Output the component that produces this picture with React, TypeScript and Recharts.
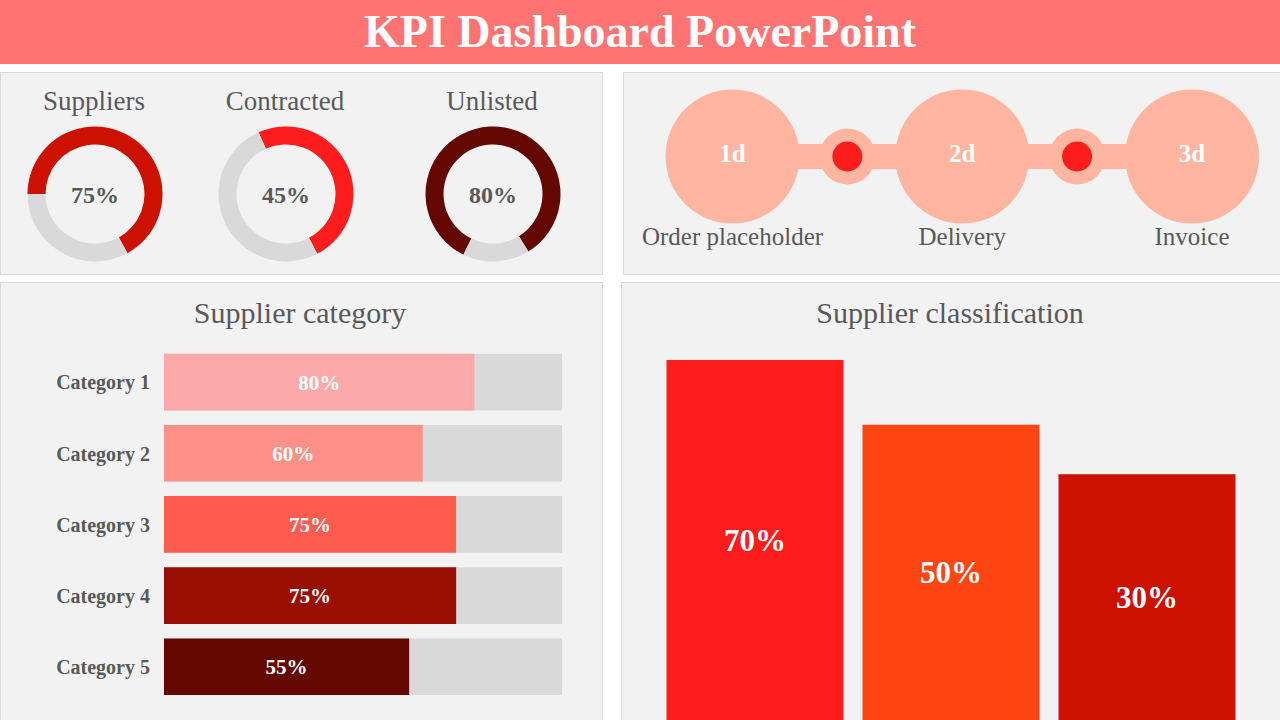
import {
  Bar,
  BarChart,
  Cell,
  ComposedChart,
  Label,
  LabelList,
  Line,
  Pie,
  PieChart,
  Scatter,
  XAxis,
  YAxis,
} from "recharts";

const SERIF = "'Liberation Serif', 'Times New Roman', serif";
const GREY_TEXT = "#595959";
const TRACK = "#D9D9D9";
const SALMON = "#FFB5A0";

// donut gauges (label = printed number, arc = share of the ring as drawn)
const gaugeNames = ["Suppliers", "Contracted", "Unlisted"];
const gaugeLabels = [75, 45, 80];
const gaugeArcs = [67, 49, 84];
const gaugeColors = ["#CC1100", "#FF1C1C", "#640700"];

// process timeline
const stageLabels = ["1d", "2d", "3d"];
const stageNames = ["Order placeholder", "Delivery", "Invoice"];
const stageSteps = [0, 2, 4];
const checkpointSteps = [1, 3];

// supplier category
const categories = ["Category 1", "Category 2", "Category 3", "Category 4", "Category 5"];
const categoryLabels = [80, 60, 75, 75, 55];
const categoryBars = [78, 65, 73.4, 73.4, 61.6];
const categoryColors = ["#FCA9A9", "#FF9088", "#FF5C50", "#990F02", "#640700"];

// supplier classification
const classes = ["Class A", "Class B", "Class C"];
const classLabels = [70, 50, 30];
const classBars = [70, 57.4, 47.8];
const classColors = ["#FF1C1C", "#FF4512", "#CC1100"];

// layout bits
const GAUGE_X = [94.5, 286, 492.5];
const GAUGE_START = [180, 114, 244];
const GAUGE_TITLE_X = [94, 285, 492];

const stageData = stageLabels.map((label, i) => ({ x: stageSteps[i], y: 0, label, name: stageNames[i] }));
const checkpointData = checkpointSteps.map((x) => ({ x, y: 0 }));
const categoryData = categories.map((name, i) => ({ name, value: categoryBars[i], label: `${categoryLabels[i]}%` }));
const classData = classes.map((name, i) => ({ name, value: classBars[i], label: `${classLabels[i]}%` }));

const panel = (left: number, top: number, width: number, height: number) => ({
  position: "absolute" as const,
  left,
  top,
  width,
  height,
  boxSizing: "border-box" as const,
  background: "#F2F2F2",
  border: `1px solid ${TRACK}`,
});

function Caption({ x, y, size, children }: { x: number; y: number; size: number; children: string }) {
  return (
    <div
      style={{
        position: "absolute",
        left: x - 200,
        top: y - 20,
        width: 400,
        lineHeight: "40px",
        textAlign: "center",
        fontFamily: SERIF,
        fontSize: size,
        color: GREY_TEXT,
      }}
    >
      {children}
    </div>
  );
}

function Gauge({ i }: { i: number }) {
  const data = [
    { name: "value", v: gaugeArcs[i] },
    { name: "rest", v: 100 - gaugeArcs[i] },
  ];
  return (
    <div style={{ position: "absolute", left: GAUGE_X[i] - 75, top: 193.5 - 75 }}>
      <PieChart width={150} height={150} margin={{ top: 0, right: 0, bottom: 0, left: 0 }}>
        <Pie
          data={data}
          dataKey="v"
          cx="50%"
          cy="50%"
          innerRadius={49.5}
          outerRadius={67.5}
          startAngle={GAUGE_START[i]}
          endAngle={GAUGE_START[i] - 360}
          stroke="none"
          isAnimationActive={false}
        >
          <Cell fill={gaugeColors[i]} />
          <Cell fill={TRACK} />
          <Label
            value={`${gaugeLabels[i]}%`}
            position="center"
            fill={GREY_TEXT}
            fontFamily={SERIF}
            fontSize={24}
            fontWeight={700}
          />
        </Pie>
      </PieChart>
    </div>
  );
}

const StageShape = (props: any) => {
  const { cx, cy, payload } = props;
  return (
    <g>
      <circle cx={cx} cy={cy} r={67} fill={SALMON} />
      <text x={cx} y={cy - 3} textAnchor="middle" dominantBaseline="central" fill="#fff" fontFamily={SERIF} fontWeight={700} fontSize={25}>
        {payload.label}
      </text>
      <text x={cx} y={cy + 80} textAnchor="middle" dominantBaseline="central" fill={GREY_TEXT} fontFamily={SERIF} fontSize={25}>
        {payload.name}
      </text>
    </g>
  );
};

const CheckpointShape = (props: any) => {
  const { cx, cy } = props;
  return (
    <g>
      <circle cx={cx} cy={cy} r={28} fill={SALMON} />
      <circle cx={cx} cy={cy} r={15} fill="#FF1C1C" />
    </g>
  );
};

export default function App() {
  return (
    <div
      style={{
        position: "absolute",
        left: 0,
        top: 0,
        width: 1280,
        height: 720,
        overflow: "hidden",
        background: "#fff",
        fontFamily: SERIF,
      }}
    >
      <div
        style={{
          position: "absolute",
          left: 0,
          top: 0,
          width: 1280,
          height: 64,
          background: "#FF7373",
          color: "#fff",
          fontFamily: SERIF,
          fontWeight: 700,
          fontSize: 46,
          lineHeight: "64px",
          textAlign: "center",
        }}
      >
        KPI Dashboard PowerPoint
      </div>

      <div style={panel(0, 72, 603, 203)} />
      <div style={panel(623, 72, 660, 203)} />
      <div style={panel(0, 282, 603, 445)} />
      <div style={panel(621, 282, 662, 445)} />

      {gaugeNames.map((name, i) => (
        <Caption key={name} x={GAUGE_TITLE_X[i]} y={100.5} size={27}>
          {name}
        </Caption>
      ))}
      {gaugeNames.map((name, i) => (
        <Gauge key={name} i={i} />
      ))}

      <div style={{ position: "absolute", left: 623, top: 72 }}>
        <ComposedChart width={657} height={202} data={stageData} margin={{ top: 20, right: 88, bottom: 53, left: 109.5 }}>
          <XAxis type="number" dataKey="x" domain={[0, 4]} hide />
          <YAxis type="number" dataKey="y" domain={[-1, 1]} hide />
          <Line dataKey="y" stroke={SALMON} strokeWidth={25} dot={false} activeDot={false} isAnimationActive={false} />
          <Scatter data={checkpointData} shape={CheckpointShape} isAnimationActive={false} />
          <Scatter data={stageData} shape={StageShape} isAnimationActive={false} />
        </ComposedChart>
      </div>

      <Caption x={300} y={312.8} size={30}>
        Supplier category
      </Caption>
      <div style={{ position: "absolute", left: 0, top: 282 }}>
        <BarChart
          layout="vertical"
          width={603}
          height={438}
          data={categoryData}
          margin={{ top: 64.7, right: 41, bottom: 17.4, left: 0 }}
        >
          <XAxis type="number" domain={[0, 100]} hide />
          <YAxis
            type="category"
            dataKey="name"
            width={164}
            axisLine={false}
            tickLine={false}
            tickMargin={8}
            tick={{ fill: GREY_TEXT, fontFamily: SERIF, fontSize: 20, fontWeight: 700 }}
          />
          <Bar dataKey="value" barSize={56.7} background={{ fill: TRACK }} isAnimationActive={false}>
            {categoryData.map((d, i) => (
              <Cell key={d.name} fill={categoryColors[i]} />
            ))}
            <LabelList dataKey="label" position="center" fill="#fff" fontFamily={SERIF} fontSize={21} fontWeight={700} />
          </Bar>
        </BarChart>
      </div>

      <Caption x={950} y={312.8} size={30}>
        Supplier classification
      </Caption>
      <div style={{ position: "absolute", left: 621, top: 282 }}>
        <BarChart
          width={659}
          height={438}
          data={classData}
          barSize={177}
          margin={{ top: 26.6, right: 35.5, bottom: 0, left: 35.5 }}
        >
          <XAxis dataKey="name" hide />
          <YAxis type="number" domain={[0, 80]} hide />
          <Bar dataKey="value" isAnimationActive={false}>
            {classData.map((d, i) => (
              <Cell key={d.name} fill={classColors[i]} />
            ))}
            <LabelList dataKey="label" position="center" fill="#fff" fontFamily={SERIF} fontSize={31} fontWeight={700} />
          </Bar>
        </BarChart>
      </div>
    </div>
  );
}
